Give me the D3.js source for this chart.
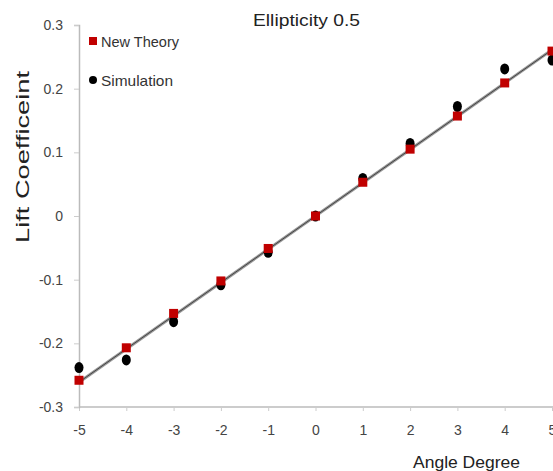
<!DOCTYPE html>
<html><head><meta charset="utf-8">
<script src="https://cdn.jsdelivr.net/npm/d3@7"></script>
<style>body{margin:0;background:#fff;} svg{display:block;}</style>
</head><body>
<svg id="c" width="553" height="471"></svg>
<script>
const angles = [-5,-4,-3,-2,-1,0,1,2,3,4,5];
const newTheory = [-0.258,-0.207,-0.153,-0.102,-0.051,0,0.053,0.105,0.157,0.209,0.259];
const simulation = [-0.238,-0.226,-0.166,-0.108,-0.057,0,0.059,0.114,0.172,0.231,0.245];
const xTicks = [-5,-4,-3,-2,-1,0,1,2,3,4,5];
const yTicks = [-0.3,-0.2,-0.1,0,0.1,0.2,0.3];
const fitLine = [[-5,-0.261],[5,0.261]];

const svg = d3.select("#c");
const x = d3.scaleLinear().domain([-5,5]).range([79,552]);
const y = d3.scaleLinear().domain([-0.3,0.3]).range([407,25]);
const font = "'Liberation Sans',Arial,sans-serif";
const hy = s => String(s).replace("\u2212","-");

// axes
const xa = svg.append("g").attr("transform","translate(0,407)")
  .call(d3.axisBottom(x).tickValues(xTicks).tickSize(4).tickPadding(14).tickFormat(d=>hy(String(d))));
const ya = svg.append("g").attr("transform","translate(79,0)")
  .call(d3.axisLeft(y).tickValues(yTicks).tickSize(5).tickPadding(11).tickFormat(d=> d===0?"0":(d<0?"-":"")+Math.abs(d).toFixed(1)));
[xa,ya].forEach(g=>{
  g.select(".domain").attr("stroke","#bbb").attr("stroke-width",1.5);
  g.selectAll(".tick line").attr("stroke","#ccc");
  g.selectAll("text").attr("fill","#444").style("font-family",font).style("font-size","14px");
});
xa.select(".domain").attr("d","M79,0H553");

// line
const line = d3.line().x(d=>x(d[0])).y(d=>y(d[1]));
svg.append("path").datum(fitLine).attr("d",line).attr("stroke","#999").attr("stroke-width",3).attr("fill","none");
svg.append("path").datum(fitLine).attr("d",line).attr("stroke","#444").attr("stroke-width",1).attr("fill","none");

// simulation
svg.selectAll(".sim").data(angles).enter().append("ellipse")
  .attr("cx",d=>x(d)).attr("cy",(d,i)=>y(simulation[i])).attr("rx",4.5).attr("ry",5.5).attr("fill","#000");
// new theory
svg.selectAll(".nt").data(angles).enter().append("rect")
  .attr("x",d=>x(d)-4.5).attr("y",(d,i)=>y(newTheory[i])-4.5).attr("width",9).attr("height",9).attr("fill","#c00000");

// legend
svg.append("rect").attr("x",89).attr("y",37).attr("width",8).attr("height",8).attr("fill","#c00000");
svg.append("text").attr("x",101).attr("y",47).text("New Theory").attr("fill","#333").style("font-family",font).style("font-size","15px")
  .attr("textLength",78).attr("lengthAdjust","spacingAndGlyphs");
svg.append("circle").attr("cx",93).attr("cy",80).attr("r",4).attr("fill","#000");
svg.append("text").attr("x",101).attr("y",86).text("Simulation").attr("fill","#333").style("font-family",font).style("font-size","15px")
  .attr("textLength",72).attr("lengthAdjust","spacingAndGlyphs");

// title
svg.append("text").attr("x",253).attr("y",26).text("Ellipticity 0.5")
  .attr("fill","#222").style("font-family",font).style("font-size","17px")
  .attr("textLength",107).attr("lengthAdjust","spacingAndGlyphs");
// axis titles
svg.append("text").attr("x",413).attr("y",468).text("Angle Degree")
  .attr("fill","#222").style("font-family",font).style("font-size","17px")
  .attr("textLength",107).attr("lengthAdjust","spacingAndGlyphs");
svg.append("text").attr("transform","translate(29,243) rotate(-90)").text("Lift Coefficeint")
  .attr("fill","#222").style("font-family",font).style("font-size","18px")
  .attr("textLength",172).attr("lengthAdjust","spacingAndGlyphs");
</script>
</body></html>
